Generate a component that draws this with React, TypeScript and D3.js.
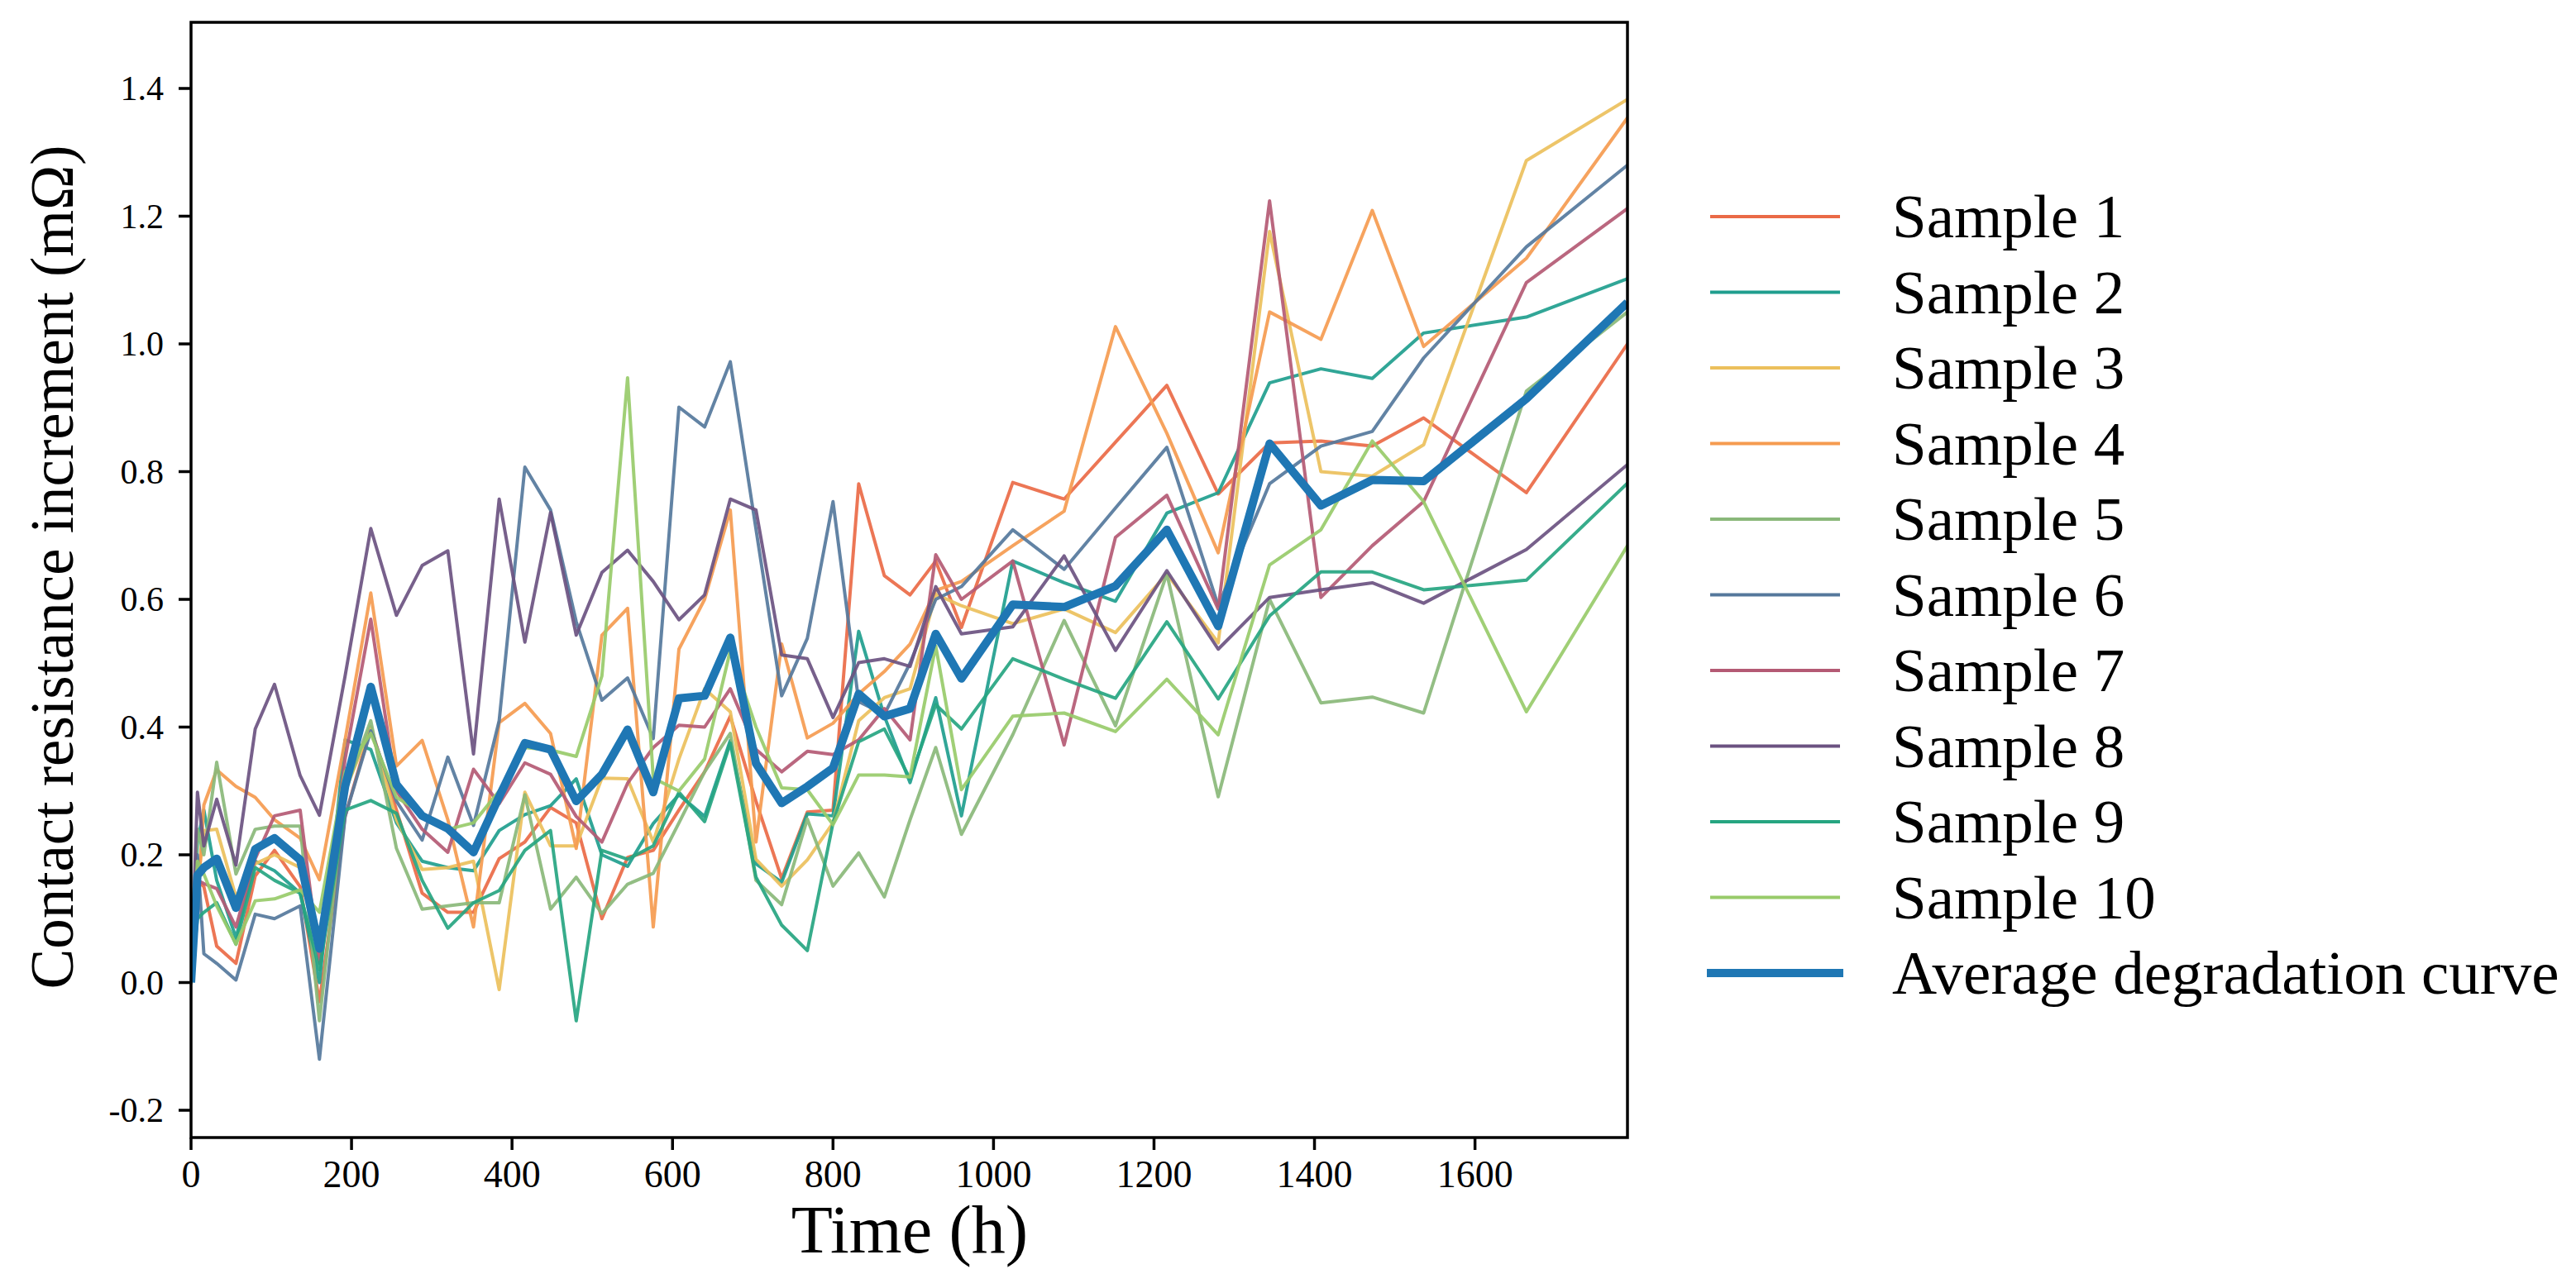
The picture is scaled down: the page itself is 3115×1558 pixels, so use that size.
import React from 'react';
import * as d3 from 'd3';

// Time axis (h)
const TIME = [0, 8, 16, 32, 56, 80, 104, 136, 160, 192, 224, 256, 288, 320, 352, 384, 416, 448, 480, 512, 544, 576, 608, 640, 672, 704, 736, 768, 800, 832, 864, 896, 928, 960, 1024, 1088, 1152, 1216, 1280, 1344, 1408, 1472, 1536, 1664, 1790];

const SAMPLE_1 = [0, 0.16, 0.15, 0.057, 0.03, 0.167, 0.207, 0.15, -0.03, 0.26, 0.40, 0.27, 0.14, 0.11, 0.11, 0.194, 0.22, 0.274, 0.25, 0.10, 0.196, 0.207, 0.27, 0.33, 0.417, 0.284, 0.163, 0.267, 0.27, 0.781, 0.637, 0.607, 0.66, 0.556, 0.783, 0.757, 0.846, 0.935, 0.765, 0.845, 0.848, 0.84, 0.884, 0.767, 1.0];
const SAMPLE_2 = [0, 0.22, 0.27, 0.16, 0.07, 0.19, 0.175, 0.14, 0.0, 0.38, 0.365, 0.25, 0.19, 0.18, 0.175, 0.238, 0.263, 0.277, 0.319, 0.20, 0.182, 0.249, 0.294, 0.26, 0.379, 0.186, 0.157, 0.264, 0.261, 0.55, 0.417, 0.313, 0.446, 0.261, 0.66, 0.626, 0.597, 0.735, 0.767, 0.939, 0.961, 0.946, 1.017, 1.042, 1.102];
const SAMPLE_3 = [0, 0.15, 0.238, 0.24, 0.134, 0.186, 0.2, 0.18, 0.04, 0.30, 0.40, 0.255, 0.177, 0.18, 0.19, -0.011, 0.298, 0.214, 0.214, 0.32, 0.319, 0.22, 0.35, 0.46, 0.424, 0.193, 0.151, 0.192, 0.25, 0.41, 0.446, 0.46, 0.608, 0.59, 0.562, 0.585, 0.548, 0.64, 0.532, 1.176, 0.80, 0.793, 0.842, 1.287, 1.383];
const SAMPLE_4 = [0, 0.12, 0.278, 0.333, 0.307, 0.29, 0.255, 0.226, 0.161, 0.38, 0.61, 0.339, 0.379, 0.255, 0.087, 0.407, 0.437, 0.39, 0.21, 0.544, 0.586, 0.087, 0.522, 0.60, 0.74, 0.22, 0.53, 0.383, 0.406, 0.452, 0.487, 0.53, 0.614, 0.628, 0.684, 0.738, 1.027, 0.86, 0.673, 1.05, 1.007, 1.209, 0.996, 1.134, 1.354];
const SAMPLE_5 = [0, 0.24, 0.20, 0.345, 0.17, 0.24, 0.245, 0.245, -0.06, 0.30, 0.41, 0.21, 0.115, 0.12, 0.125, 0.125, 0.294, 0.115, 0.165, 0.108, 0.154, 0.171, 0.25, 0.33, 0.39, 0.16, 0.122, 0.256, 0.151, 0.203, 0.134, 0.255, 0.368, 0.232, 0.388, 0.567, 0.402, 0.64, 0.291, 0.60, 0.438, 0.447, 0.422, 0.926, 1.05];
const SAMPLE_6 = [0, 0.20, 0.045, 0.03, 0.004, 0.107, 0.10, 0.12, -0.12, 0.26, 0.394, 0.284, 0.223, 0.353, 0.246, 0.41, 0.807, 0.74, 0.565, 0.442, 0.477, 0.382, 0.901, 0.87, 0.972, 0.71, 0.449, 0.539, 0.753, 0.44, 0.42, 0.50, 0.60, 0.62, 0.709, 0.647, 0.743, 0.838, 0.59, 0.781, 0.84, 0.863, 0.978, 1.152, 1.28];
const SAMPLE_7 = [0, 0.16, 0.155, 0.147, 0.087, 0.194, 0.261, 0.27, 0.03, 0.35, 0.569, 0.30, 0.24, 0.204, 0.334, 0.28, 0.344, 0.326, 0.26, 0.22, 0.312, 0.368, 0.403, 0.40, 0.46, 0.365, 0.33, 0.362, 0.357, 0.38, 0.429, 0.38, 0.67, 0.60, 0.66, 0.372, 0.697, 0.763, 0.585, 1.224, 0.603, 0.684, 0.753, 1.096, 1.212];
const SAMPLE_8 = [0, 0.298, 0.214, 0.287, 0.184, 0.397, 0.467, 0.324, 0.262, 0.48, 0.711, 0.575, 0.653, 0.676, 0.358, 0.757, 0.533, 0.736, 0.544, 0.642, 0.677, 0.628, 0.568, 0.607, 0.757, 0.74, 0.513, 0.507, 0.415, 0.501, 0.507, 0.495, 0.62, 0.546, 0.557, 0.668, 0.52, 0.645, 0.522, 0.603, 0.615, 0.626, 0.594, 0.678, 0.811];
const SAMPLE_9 = [0, 0.10, 0.11, 0.125, 0.06, 0.18, 0.16, 0.14, 0.02, 0.27, 0.285, 0.265, 0.16, 0.085, 0.125, 0.144, 0.207, 0.238, -0.06, 0.207, 0.193, 0.214, 0.298, 0.252, 0.375, 0.165, 0.09, 0.05, 0.25, 0.377, 0.397, 0.319, 0.435, 0.397, 0.507, 0.475, 0.445, 0.565, 0.444, 0.574, 0.643, 0.643, 0.615, 0.63, 0.782];
const SAMPLE_10 = [0, 0.19, 0.17, 0.12, 0.06, 0.128, 0.131, 0.145, 0.11, 0.33, 0.39, 0.29, 0.265, 0.24, 0.25, 0.30, 0.368, 0.364, 0.354, 0.48, 0.947, 0.32, 0.30, 0.35, 0.52, 0.40, 0.305, 0.302, 0.247, 0.325, 0.325, 0.322, 0.527, 0.302, 0.417, 0.422, 0.393, 0.475, 0.388, 0.654, 0.709, 0.848, 0.753, 0.424, 0.684];
const AVERAGE = [0, 0.168, 0.18, 0.194, 0.117, 0.209, 0.226, 0.192, 0.053, 0.307, 0.463, 0.31, 0.261, 0.241, 0.204, 0.291, 0.375, 0.365, 0.284, 0.326, 0.396, 0.298, 0.445, 0.449, 0.54, 0.343, 0.281, 0.307, 0.336, 0.452, 0.417, 0.429, 0.546, 0.476, 0.592, 0.588, 0.621, 0.709, 0.558, 0.844, 0.747, 0.787, 0.785, 0.914, 1.065];

const SAMPLES = [SAMPLE_1, SAMPLE_2, SAMPLE_3, SAMPLE_4, SAMPLE_5, SAMPLE_6, SAMPLE_7, SAMPLE_8, SAMPLE_9, SAMPLE_10];
const SAMPLE_NAMES = ['Sample 1', 'Sample 2', 'Sample 3', 'Sample 4', 'Sample 5', 'Sample 6', 'Sample 7', 'Sample 8', 'Sample 9', 'Sample 10'];
const SAMPLE_COLORS = ['#EA6A47', '#1F9E8E', '#ECC05C', '#F59B50', '#8AB87A', '#55789C', '#B45A74', '#6B5281', '#26A581', '#98CB6A'];
const AVERAGE_NAME = 'Average degradation curve';
const AVERAGE_COLOR = '#1F77B4';

const Y_TICKS = [-0.2, 0, 0.2, 0.4, 0.6, 0.8, 1.0, 1.2, 1.4];
const Y_TICK_LABELS = ['-0.2', '0.0', '0.2', '0.4', '0.6', '0.8', '1.0', '1.2', '1.4'];
const X_TICKS = [0, 200, 400, 600, 800, 1000, 1200, 1400, 1600];
const X_TICK_LABELS = ['0', '200', '400', '600', '800', '1000', '1200', '1400', '1600'];

const FONT = '"Liberation Serif", "Times New Roman", Times, serif';

export default function App() {
  const W = 3115;
  const H = 1558;
  const left = 231;
  const right = 1968;
  const top = 27;
  const bottom = 1376;

  const x = d3.scaleLinear().domain([0, 1790]).range([left, right]);
  const y = d3.scaleLinear().domain([-0.2, 1.4]).range([1343, 107]);

  const line = d3
    .line<number>()
    .x((_, i) => x(TIME[i]))
    .y((d) => y(d));

  const legendX0 = 2068;
  const legendX1 = 2225;
  const legendTextX = 2288;
  const legendY0 = 262;
  const legendStep = 91.5;

  return (
    <svg
      width={W}
      height={H}
      viewBox={`0 0 ${W} ${H}`}
      style={{ position: 'absolute', left: 0, top: 0, background: '#fff' }}
    >
      <rect x={0} y={0} width={W} height={H} fill="#fff" />
      <defs>
        <clipPath id="plotClip">
          <rect x={left} y={top} width={right - left} height={bottom - top} />
        </clipPath>
      </defs>

      <g clipPath="url(#plotClip)">
        {SAMPLES.map((s, k) => (
          <path
            key={k}
            d={line(s) || ''}
            fill="none"
            stroke={SAMPLE_COLORS[k]}
            strokeWidth={4}
            strokeLinejoin="round"
            strokeLinecap="round"
            opacity={0.92}
          />
        ))}
        <path
          d={line(AVERAGE) || ''}
          fill="none"
          stroke={AVERAGE_COLOR}
          strokeWidth={10}
          strokeLinejoin="round"
          strokeLinecap="butt"
        />
      </g>

      {/* frame */}
      <rect
        x={left}
        y={top}
        width={right - left}
        height={bottom - top}
        fill="none"
        stroke="#000"
        strokeWidth={3.5}
      />

      {/* y ticks */}
      {Y_TICKS.map((t, i) => (
        <g key={`yt${i}`}>
          <line x1={left - 15} x2={left} y1={y(t)} y2={y(t)} stroke="#000" strokeWidth={3.5} />
          <text
            x={198}
            y={y(t)}
            textAnchor="end"
            dominantBaseline="central"
            fontFamily={FONT}
            fontSize={42}
            fill="#000"
          >
            {Y_TICK_LABELS[i]}
          </text>
        </g>
      ))}

      {/* x ticks */}
      {X_TICKS.map((t, i) => (
        <g key={`xt${i}`}>
          <line x1={x(t)} x2={x(t)} y1={bottom} y2={bottom + 15} stroke="#000" strokeWidth={3.5} />
          <text
            x={x(t)}
            y={1436}
            textAnchor="middle"
            fontFamily={FONT}
            fontSize={46}
            fill="#000"
          >
            {X_TICK_LABELS[i]}
          </text>
        </g>
      ))}

      {/* axis labels */}
      <text
        x={1100}
        y={1515}
        textAnchor="middle"
        fontFamily={FONT}
        fontSize={82}
        fill="#000"
      >
        Time (h)
      </text>
      <text
        transform={`translate(88, 686) rotate(-90)`}
        textAnchor="middle"
        fontFamily={FONT}
        fontSize={73}
        fill="#000"
      >
        Contact resistance increment (mΩ)
      </text>

      {/* legend */}
      {SAMPLE_NAMES.map((name, k) => {
        const ly = legendY0 + k * legendStep;
        return (
          <g key={`lg${k}`}>
            <line x1={legendX0} x2={legendX1} y1={ly} y2={ly} stroke={SAMPLE_COLORS[k]} strokeWidth={4} />
            <text x={legendTextX} y={ly + 25} fontFamily={FONT} fontSize={75} fill="#000">
              {name}
            </text>
          </g>
        );
      })}
      <g>
        <line
          x1={legendX0 - 4}
          x2={legendX1 + 4}
          y1={legendY0 + 10 * legendStep}
          y2={legendY0 + 10 * legendStep}
          stroke={AVERAGE_COLOR}
          strokeWidth={10}
        />
        <text
          x={legendTextX}
          y={legendY0 + 10 * legendStep + 25}
          fontFamily={FONT}
          fontSize={75}
          fill="#000"
        >
          {AVERAGE_NAME}
        </text>
      </g>
    </svg>
  );
}
